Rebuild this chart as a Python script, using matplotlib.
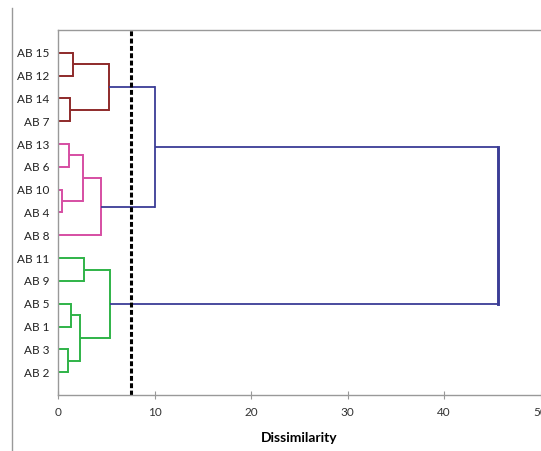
import matplotlib
matplotlib.use("Agg")
import matplotlib.pyplot as plt
from matplotlib.lines import Line2D

plt.rcParams["font.family"] = ["Lato", "DejaVu Sans"]

# leaves, top to bottom
labels = ["AB 15", "AB 12", "AB 14", "AB 7", "AB 13", "AB 6", "AB 10", "AB 4",
          "AB 8", "AB 11", "AB 9", "AB 5", "AB 1", "AB 3", "AB 2"]

# merges: child a, child b (leaf index, or 15 + merge index), height
merge_a = [0, 2, 15, 4, 6, 18, 20, 9, 11, 13, 23, 22, 17, 27]
merge_b = [1, 3, 16, 5, 7, 19, 8, 10, 12, 14, 24, 25, 21, 26]
merge_h = [1.55, 1.25, 5.3, 1.15, 0.45, 2.6, 4.5, 2.7, 1.3, 1.05, 2.3, 5.4, 10.0, 45.6]
merge_group = ["red", "red", "red", "pink", "pink", "pink", "pink",
               "green", "green", "green", "green", "green", "blue", "blue"]

cut_level = 7.6

colors = {"red": "#8e2a2a", "pink": "#d64ea3", "green": "#2fb347", "blue": "#3b3d96"}
widths = {"red": 1.4, "pink": 1.4, "green": 1.4, "blue": 1.3}

fig = plt.figure(figsize=(5.41, 4.51), dpi=100)
ax = fig.add_axes([0.1072, 0.1242, 0.892, 0.8093])

n = len(labels)
ypos = {i: i + 1 for i in range(n)}
xpos = {i: 0.0 for i in range(n)}

for k, (a, b, h, g) in enumerate(zip(merge_a, merge_b, merge_h, merge_group)):
    c = colors[g]
    lw = widths[g]
    ya, yb = ypos[a], ypos[b]
    ax.plot([xpos[a], h], [ya, ya], color=c, lw=lw, solid_capstyle="butt")
    ax.plot([xpos[b], h], [yb, yb], color=c, lw=lw, solid_capstyle="butt")
    ax.plot([h, h], [ya, yb], color=c, lw=lw + (0.8 if k == len(merge_h) - 1 else 0))
    idx = n + k
    ypos[idx] = (ya + yb) / 2
    xpos[idx] = h

ax.axvline(cut_level, color="black", lw=2.2, linestyle=(0, (1.6, 0.8)))

ax.set_xlim(0, 50)
ax.set_ylim(n + 1, 0)
ax.set_yticks(range(1, n + 1))
ax.set_yticklabels(labels, fontsize=8.5, color="#222222")
ax.tick_params(axis="y", length=0, pad=6)
ax.set_xticks([0, 10, 20, 30, 40, 50])
ax.tick_params(axis="x", direction="inout", length=6, color="#999999",
               labelsize=8.5, labelcolor="#333333", pad=6)
ax.set_xlabel("Dissimilarity", fontsize=10, fontweight="bold", labelpad=10)

for side in ["left", "bottom", "top"]:
    ax.spines[side].set_color("#999999")
    ax.spines[side].set_linewidth(1.0)
ax.spines["right"].set_visible(False)

fig.add_artist(Line2D([12 / 541, 12 / 541], [0, 1 - 8 / 451],
                      transform=fig.transFigure, color="#999999", lw=1.0))

fig.savefig("out.png", dpi=100)
